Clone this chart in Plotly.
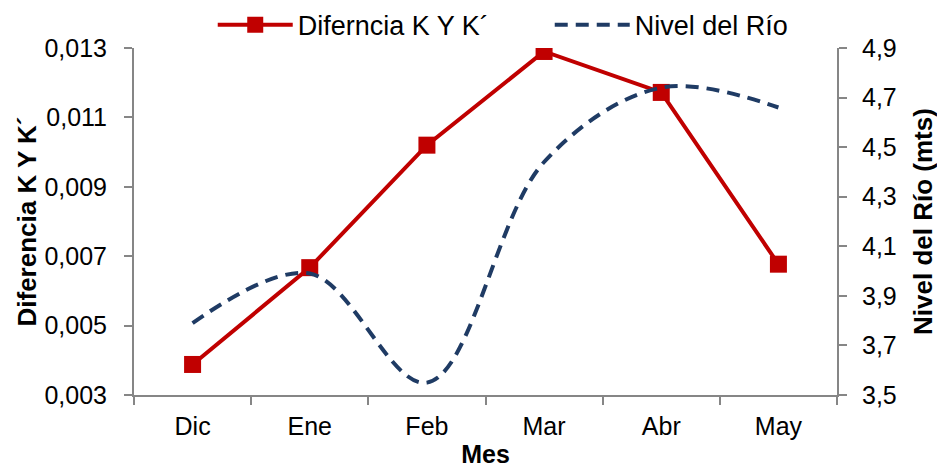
import plotly.graph_objects as go

meses = ["Dic", "Ene", "Feb", "Mar", "Abr", "May"]
diferencia = [0.00388, 0.00667, 0.0102, 0.0129, 0.01172, 0.00677]
nivel_rio = [3.79, 3.99, 3.55, 4.44, 4.74, 4.66]

FONT = "Liberation Sans, Arial, sans-serif"
AXIS_GREY = "#868686"

fig = go.Figure()
fig.add_trace(go.Scatter(
    x=meses, y=diferencia, name="Diferncia K Y K´", mode="lines+markers",
    line=dict(color="#C00000", width=4),
    marker=dict(symbol="square", size=17, color="#C00000"),
    yaxis="y",
))
fig.add_trace(go.Scatter(
    x=meses, y=nivel_rio, name="Nivel del Río", mode="lines",
    line=dict(color="#1F3B64", width=4, dash="13px,8px", shape="spline", smoothing=1.0),
    yaxis="y2",
))

fig.update_layout(
    width=937, height=460,
    margin=dict(l=126, r=108, t=40, b=73, autoexpand=False),
    paper_bgcolor="white", plot_bgcolor="white",
    separators=",.",
    font=dict(family=FONT, size=25, color="#000000"),
    showlegend=True,
    legend=dict(orientation="h", x=0.112, xanchor="left", y=1.066, yanchor="middle",
                font=dict(size=27), itemwidth=75, entrywidth=247,
                bgcolor="rgba(0,0,0,0)", tracegroupgap=0),
    xaxis=dict(
        type="category", range=[-0.5, 5.5], tickson="boundaries", automargin=False,
        showline=True, linecolor=AXIS_GREY, linewidth=2,
        ticks="outside", ticklen=8, tickcolor=AXIS_GREY, tickwidth=2,
        ticklabelstandoff=8,
        showgrid=False, zeroline=False,
        tickfont=dict(size=25),
        title=dict(text="<b>Mes</b>", font=dict(size=25), standoff=10),
    ),
    yaxis=dict(
        range=[0.003, 0.013], dtick=0.002, tick0=0.003, tickformat=".3f", automargin=False,
        showline=True, linecolor=AXIS_GREY, linewidth=2,
        ticks="outside", ticklen=8, tickcolor=AXIS_GREY, tickwidth=2,
        ticklabelstandoff=12,
        showgrid=False, zeroline=False,
        tickfont=dict(size=25),
        title=dict(text="<b>Diferencia K Y K´</b>", font=dict(size=26), standoff=0),
    ),
    yaxis2=dict(
        range=[3.5, 4.9], dtick=0.2, tick0=3.5, tickformat=".1f", automargin=False,
        overlaying="y", side="right",
        showline=True, linecolor=AXIS_GREY, linewidth=2,
        ticks="outside", ticklen=8, tickcolor=AXIS_GREY, tickwidth=2,
        ticklabelstandoff=10,
        showgrid=False, zeroline=False,
        tickfont=dict(size=25),
        title=dict(text="<b>Nivel del Río (mts)</b>", font=dict(size=26), standoff=18),
    ),
)

fig.write_html("out.html")
